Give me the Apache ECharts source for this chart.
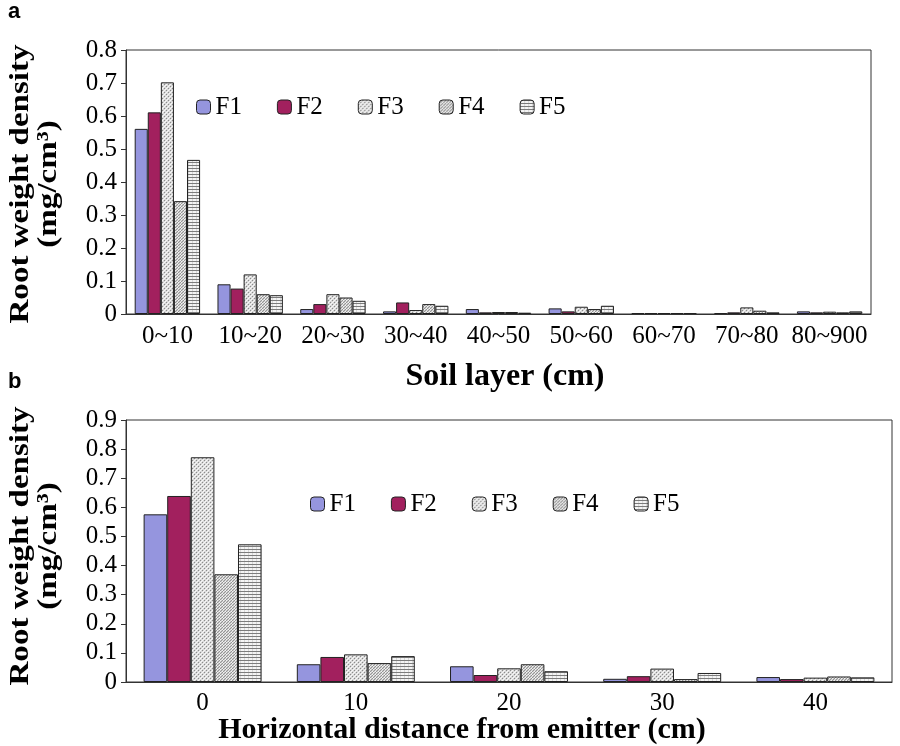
<!DOCTYPE html>
<html>
<head>
<meta charset="utf-8">
<script src="https://cdn.jsdelivr.net/npm/echarts@6/dist/echarts.min.js"></script>
<style>html,body{margin:0;padding:0;background:#fff}#c{width:900px;height:746px}</style>
</head>
<body>
<div id="c"></div>
<script>
var seriesNames = ['F1','F2','F3','F4','F5'];

var soilLayers = ['0~10','10~20','20~30','30~40','40~50','50~60','60~70','70~80','80~900'];
var soilF1 = [0.561, 0.090, 0.015, 0.008, 0.015, 0.017, 0.003, 0.003, 0.008];
var soilF2 = [0.611, 0.077, 0.030, 0.035, 0.005, 0.008, 0.003, 0.005, 0.005];
var soilF3 = [0.702, 0.120, 0.060, 0.012, 0.006, 0.022, 0.003, 0.020, 0.007];
var soilF4 = [0.342, 0.060, 0.050, 0.030, 0.006, 0.015, 0.003, 0.010, 0.005];
var soilF5 = [0.467, 0.057, 0.040, 0.025, 0.004, 0.025, 0.003, 0.005, 0.008];

var distances = ['0','10','20','30','40'];
var distF1 = [0.576, 0.061, 0.054, 0.011, 0.017];
var distF2 = [0.639, 0.086, 0.024, 0.020, 0.010];
var distF3 = [0.772, 0.095, 0.047, 0.046, 0.015];
var distF4 = [0.370, 0.065, 0.061, 0.010, 0.019];
var distF5 = [0.473, 0.089, 0.037, 0.031, 0.016];

function pattern(w, h, bg, layers) {
  var c = document.createElement('canvas');
  c.width = w; c.height = h;
  var g = c.getContext('2d');
  g.fillStyle = bg; g.fillRect(0, 0, w, h);
  layers.forEach(function (L) {
    g.fillStyle = L.color;
    L.pts.forEach(function (p) { g.fillRect(p[0], p[1], p[2] || 1, p[3] || 1); });
  });
  return { image: c, repeat: 'repeat' };
}
var fills = [
  '#9595de',
  '#a2205e',
  pattern(4, 4, '#d9d9d9', [
    { color: '#8c8c8c', pts: [[0,0],[2,2]] },
    { color: '#f7f7f7', pts: [[1,1],[3,3],[2,0],[0,2]] }
  ]),
  pattern(3, 3, '#d2d2d2', [
    { color: '#949494', pts: [[0,0],[2,1],[1,2]] },
    { color: '#f2f2f2', pts: [[1,0],[0,2]] }
  ]),
  pattern(4, 3, '#f4f4f4', [
    { color: '#7c7c7c', pts: [[0,0,4,1]] },
    { color: '#d8d8d8', pts: [[0,1],[0,2]] }
  ])
];

var serif = '"Liberation Serif", "Times New Roman", serif';

function makeSeries(dataArrs, xi) {
  return dataArrs.map(function (d, i) {
    return {
      name: seriesNames[i], type: 'bar', xAxisIndex: xi, yAxisIndex: xi,
      data: d, barGap: '0%', barCategoryGap: xi === 0 ? '21%' : '23%',
      itemStyle: { color: fills[i], borderColor: '#222', borderWidth: 1 },
      emphasis: { disabled: true }
    };
  });
}

var axisLabel = { color: '#000', fontFamily: serif, fontSize: 25 };

var option = {
  animation: false,
  backgroundColor: '#fff',
  grid: [
    { left: 126, top: 50, width: 745, height: 264, show: true, borderColor: '#333', borderWidth: 1 },
    { left: 126, top: 420, width: 766, height: 262, show: true, borderColor: '#333', borderWidth: 1 }
  ],
  legend: [
    { data: seriesNames, left: 196, top: 94, padding: 0, itemWidth: 14, itemHeight: 14, itemGap: 35,
      textStyle: { fontFamily: serif, fontSize: 25, color: '#000', lineHeight: 26 }, selectedMode: false,
      itemStyle: { borderColor: '#222', borderWidth: 1 } },
    { data: seriesNames, left: 310, top: 491, padding: 0, itemWidth: 14, itemHeight: 14, itemGap: 35,
      textStyle: { fontFamily: serif, fontSize: 25, color: '#000', lineHeight: 26 }, selectedMode: false,
      itemStyle: { borderColor: '#222', borderWidth: 1 } }
  ],
  xAxis: [
    { type: 'category', gridIndex: 0, data: soilLayers,
      axisLine: { lineStyle: { color: '#333', width: 1 } },
      axisTick: { inside: true, length: 7, lineStyle: { color: '#333' } },
      axisLabel: Object.assign({ interval: 0, margin: 10 }, axisLabel) },
    { type: 'category', gridIndex: 1, data: distances,
      axisLine: { lineStyle: { color: '#333', width: 1 } },
      axisTick: { inside: true, length: 7, lineStyle: { color: '#333' } },
      axisLabel: Object.assign({ interval: 0, margin: 9 }, axisLabel) }
  ],
  yAxis: [
    { type: 'value', gridIndex: 0, min: 0, max: 0.8, interval: 0.1,
      axisLine: { show: true, lineStyle: { color: '#333', width: 1 } },
      axisTick: { show: true, length: 5, lineStyle: { color: '#333' } },
      splitLine: { show: false },
      axisLabel: Object.assign({ margin: 9 }, axisLabel) },
    { type: 'value', gridIndex: 1, min: 0, max: 0.9, interval: 0.1,
      axisLine: { show: true, lineStyle: { color: '#333', width: 1 } },
      axisTick: { show: true, length: 5, lineStyle: { color: '#333' } },
      splitLine: { show: false },
      axisLabel: Object.assign({ margin: 9 }, axisLabel) }
  ],
  series: makeSeries([soilF1, soilF2, soilF3, soilF4, soilF5], 0)
    .concat(makeSeries([distF1, distF2, distF3, distF4, distF5], 1)),
  graphic: [
    { type: 'text', left: 8, top: 1, style: { text: 'a', fill: '#000', font: 'bold 22px "Liberation Sans", Arial, sans-serif' } },
    { type: 'text', left: 8, top: 371, style: { text: 'b', fill: '#000', font: 'bold 22px "Liberation Sans", Arial, sans-serif' } },
    { type: 'text', x: 21, y: 184, rotation: Math.PI / 2, scaleX: 1.18,
      style: { text: 'Root weight density', fill: '#000', font: 'bold 28px ' + serif, align: 'center', verticalAlign: 'middle' } },
    { type: 'text', x: 49, y: 184, rotation: Math.PI / 2, scaleX: 1.18,
      style: { text: '(mg/cm\u00B3)', fill: '#000', font: 'bold 28px ' + serif, align: 'center', verticalAlign: 'middle' } },
    { type: 'text', x: 21, y: 546, rotation: Math.PI / 2, scaleX: 1.18,
      style: { text: 'Root weight density', fill: '#000', font: 'bold 28px ' + serif, align: 'center', verticalAlign: 'middle' } },
    { type: 'text', x: 49, y: 546, rotation: Math.PI / 2, scaleX: 1.18,
      style: { text: '(mg/cm\u00B3)', fill: '#000', font: 'bold 28px ' + serif, align: 'center', verticalAlign: 'middle' } },
    { type: 'text', x: 505, y: 377,
      style: { text: 'Soil layer (cm)', fill: '#000', font: 'bold 32px ' + serif, align: 'center', verticalAlign: 'middle' } },
    { type: 'text', x: 462, y: 730,
      style: { text: 'Horizontal distance from emitter (cm)', fill: '#000', font: 'bold 30px ' + serif, align: 'center', verticalAlign: 'middle' } }
  ]
};

var chart = echarts.init(document.getElementById('c'), null, { renderer: 'canvas' });
chart.setOption(option);
</script>
</body>
</html>
